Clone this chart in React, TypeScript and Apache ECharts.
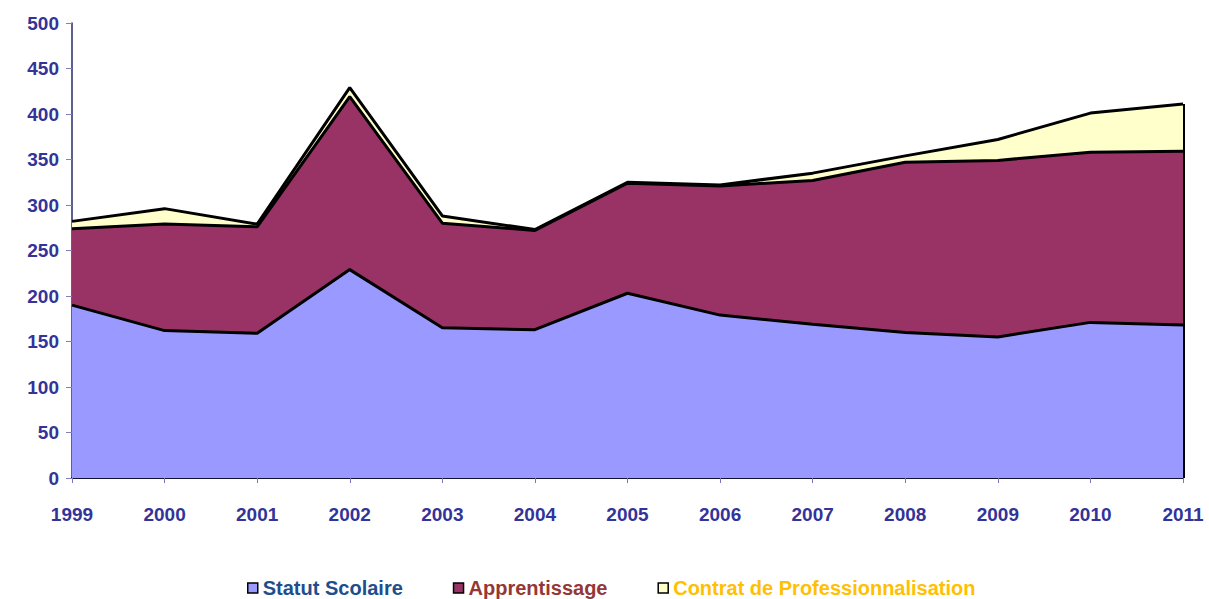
import React, { useEffect, useRef } from "react";
import * as echarts from "echarts";

const years = ["1999","2000","2001","2002","2003","2004","2005","2006","2007","2008","2009","2010","2011"];
const statutScolaire = [190, 162, 159, 229, 165, 163, 203, 179, 169, 160, 155, 171, 168];
const apprentissage = [84, 117, 117, 190, 115, 109, 121, 142, 158, 187, 194, 187, 191];
const contratPro = [8, 17, 3, 10, 8, 1, 1, 1, 8, 7, 23, 43, 52];
const yTicks = { min: 0, max: 500, interval: 50 };

const seriesNames = ["Statut Scolaire", "Apprentissage", "Contrat de Professionnalisation"];
const fills = ["#9999FF", "#993366", "#FFFFCC"];
const textColors = ["#1F4E8C", "#953735", "#FFC000"];

export default function App() {
  const ref = useRef<HTMLDivElement>(null);
  useEffect(() => {
    if (!ref.current) return;
    const chart = echarts.init(ref.current, null, { renderer: "svg" });
    const last = years.length - 1;
    const total = statutScolaire[last] + apprentissage[last] + contratPro[last];
    const datasets = [statutScolaire, apprentissage, contratPro];
    const font = "'Liberation Sans', Arial, sans-serif";
    chart.setOption({
      animation: false,
      grid: { left: 72, right: 26, top: 23, bottom: 121 },
      legend: {
        left: 247,
        top: 578,
        padding: 0,
        itemGap: 50,
        itemWidth: 10,
        itemHeight: 10,
        icon: "rect",
        data: seriesNames.map((n, i) => ({
          name: n,
          itemStyle: { color: fills[i], borderColor: "#000", borderWidth: 1.5 },
          textStyle: { color: textColors[i] },
        })),
        textStyle: { fontFamily: font, fontWeight: "bold", fontSize: 20, lineHeight: 20 },
      },
      xAxis: {
        type: "category",
        data: years,
        boundaryGap: false,
        axisLine: { lineStyle: { color: "#111133", width: 2 } },
        axisTick: { show: true, length: 5, lineStyle: { color: "#7777bb" } },
        axisLabel: { margin: 27, color: "#333399", fontFamily: font, fontWeight: "bold", fontSize: 19 },
      },
      yAxis: {
        type: "value",
        min: yTicks.min,
        max: yTicks.max,
        interval: yTicks.interval,
        splitLine: { show: false },
        axisLine: { show: true, lineStyle: { color: "#2a2a6a", width: 1.5 } },
        axisTick: { show: true, length: 6, lineStyle: { color: "#8080c0" } },
        axisLabel: { margin: 13, color: "#333399", fontFamily: font, fontWeight: "bold", fontSize: 19 },
      },
      series: datasets.map((d, i) => ({
        name: seriesNames[i],
        type: "line",
        stack: "total",
        data: d,
        symbol: "none",
        z: 10 - i,
        itemStyle: { color: fills[i] },
        lineStyle: { color: "#000", width: 3 },
        areaStyle: { color: fills[i], opacity: 1 },
        markLine:
          i === 2
            ? {
                silent: true,
                symbol: "none",
                label: { show: false },
                lineStyle: { color: "#000", width: 3, type: "solid" },
                data: [[{ xAxis: years[last], yAxis: 0 }, { xAxis: years[last], yAxis: total }]],
              }
            : undefined,
      })),
    });
    return () => chart.dispose();
  }, []);
  return (
    <div
      ref={ref}
      style={{ position: "absolute", left: 0, top: 0, width: 1209, height: 599, background: "#fff" }}
    />
  );
}
